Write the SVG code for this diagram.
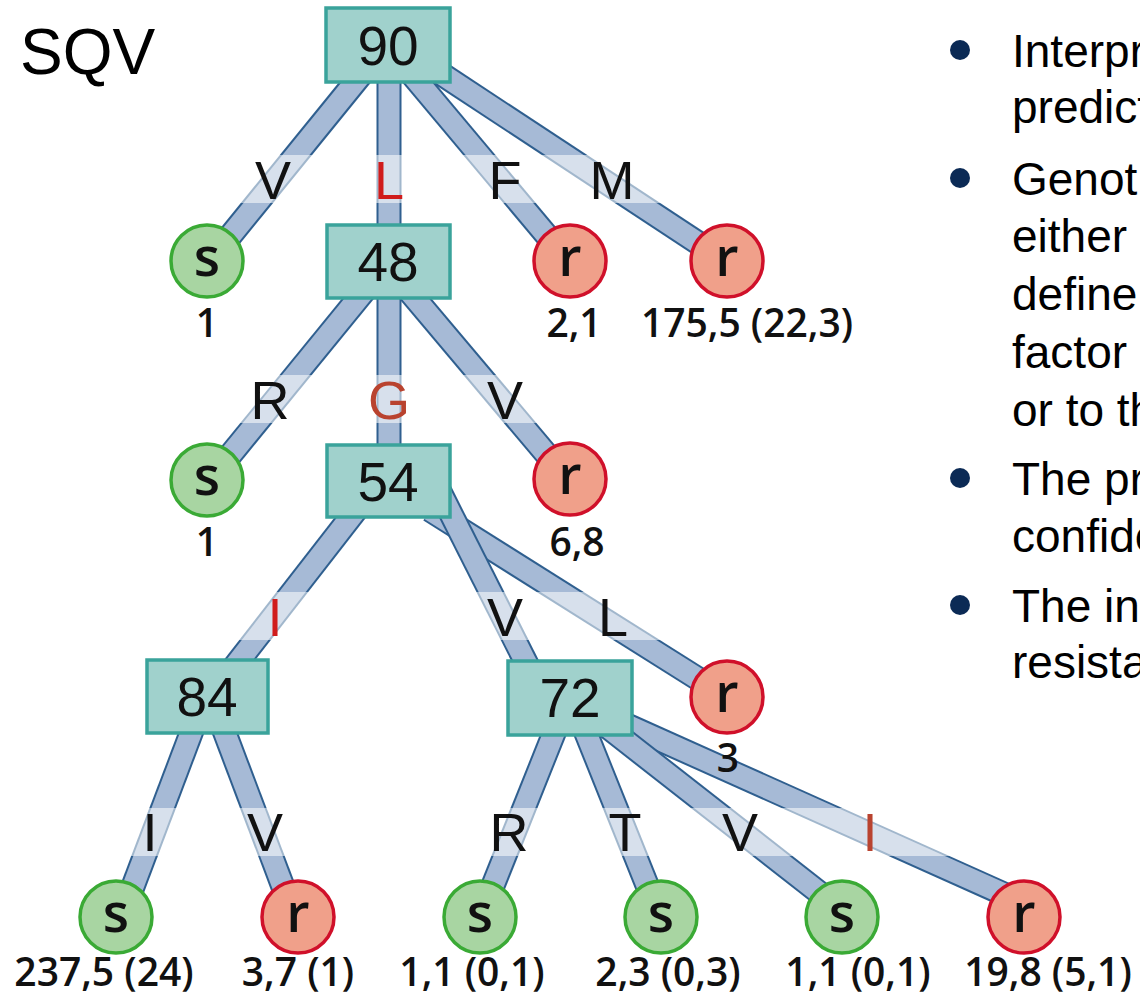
<svg xmlns="http://www.w3.org/2000/svg" width="1140" height="999" viewBox="0 0 1140 999">
  <style>
    .eo { stroke: #2f5f8f; stroke-width: 25; fill: none; }
    .ei { stroke: #a6bad6; stroke-width: 21; fill: none; }
    .zone { fill: #ffffff; fill-opacity: 0.55; }
    .box { fill: #a0d1cc; stroke: #3aa39b; stroke-width: 3.5; }
    .boxt { font-family: "Liberation Sans", Arial, sans-serif; font-size: 55px; fill: #111; text-anchor: middle; }
    .sus { fill: #a8d5a2; stroke: #3aaa35; stroke-width: 3.5; }
    .res { fill: #f0a08a; stroke: #d0102a; stroke-width: 3.5; }
    .lt { font-family: "Open Sans", "DejaVu Sans", sans-serif; font-weight: 600; font-size: 54px; fill: #111; text-anchor: middle; }
    .val { font-family: "Open Sans", "DejaVu Sans", sans-serif; font-weight: 600; font-size: 39px; fill: #111; text-anchor: middle; }
    .el { font-family: "Liberation Sans", Arial, sans-serif; font-size: 54px; fill: #111; text-anchor: middle; }
    .red { fill: #d01c1c; }
    .brn { fill: #b9432f; }
    .side { font-family: "Liberation Sans", Arial, sans-serif; font-size: 46px; fill: #000; }
    .bul { fill: #0b2a55; }
  </style>

  <!-- title -->
  <text x="20" y="74" font-family="Liberation Sans, Arial, sans-serif" font-size="64" fill="#000">SQV</text>

  <!-- connectors: thick bands, outline then fill -->
  <g id="connectors">
    <!-- from 90 -->
    <line class="eo" x1="365" y1="70" x2="209" y2="262"/><line class="ei" x1="365" y1="70" x2="209" y2="262"/>
    <line class="eo" x1="389" y1="70" x2="389" y2="232"/><line class="ei" x1="389" y1="70" x2="389" y2="232"/>
    <line class="eo" x1="408" y1="70" x2="569" y2="262"/><line class="ei" x1="408" y1="70" x2="569" y2="262"/>
    <line class="eo" x1="440" y1="73" x2="727" y2="262"/><line class="ei" x1="440" y1="73" x2="727" y2="262"/>
    <!-- from 48 -->
    <line class="eo" x1="365" y1="290" x2="209" y2="481"/><line class="ei" x1="365" y1="290" x2="209" y2="481"/>
    <line class="eo" x1="389" y1="290" x2="389" y2="452"/><line class="ei" x1="389" y1="290" x2="389" y2="452"/>
    <line class="eo" x1="408" y1="290" x2="569" y2="481"/><line class="ei" x1="408" y1="290" x2="569" y2="481"/>
    <!-- from 54 -->
    <line class="eo" x1="360" y1="505" x2="224" y2="680"/><line class="ei" x1="360" y1="505" x2="224" y2="680"/>
    <line class="eo" x1="430" y1="510" x2="727" y2="697"/><line class="ei" x1="430" y1="510" x2="727" y2="697"/>
    <line class="eo" x1="440" y1="492" x2="560" y2="730"/><line class="ei" x1="440" y1="492" x2="560" y2="730"/>
    <!-- from 84 -->
    <line class="eo" x1="196" y1="720" x2="126" y2="905"/><line class="ei" x1="196" y1="720" x2="126" y2="905"/>
    <line class="eo" x1="220" y1="720" x2="288" y2="900"/><line class="ei" x1="220" y1="720" x2="288" y2="900"/>
    <!-- from 72 -->
    <line class="eo" x1="560" y1="718" x2="486" y2="903"/><line class="ei" x1="560" y1="718" x2="486" y2="903"/>
    <line class="eo" x1="580" y1="718" x2="655" y2="905"/><line class="ei" x1="580" y1="718" x2="655" y2="905"/>
    <line class="eo" x1="620" y1="722" x2="1015" y2="899"/><line class="ei" x1="620" y1="722" x2="1015" y2="899"/>
    <line class="eo" x1="605" y1="725" x2="835" y2="905"/><line class="ei" x1="605" y1="725" x2="835" y2="905"/>
    <!-- pale label rows across the bands -->
    <rect class="zone" x="60" y="155" width="940" height="48"/>
    <rect class="zone" x="60" y="375" width="940" height="48"/>
    <rect class="zone" x="60" y="592" width="940" height="48"/>
    <rect class="zone" x="60" y="808" width="980" height="48"/>
  </g>

  <!-- edge labels -->
  <g id="edge-labels">
    <text class="el" x="273" y="199">V</text>
    <text class="el red" x="389" y="199">L</text>
    <text class="el" x="505" y="199">F</text>
    <text class="el" x="612" y="199">M</text>
    <text class="el" x="270" y="419">R</text>
    <text class="el brn" x="389" y="419">G</text>
    <text class="el" x="505" y="419">V</text>
    <text class="el red" x="275" y="636">I</text>
    <text class="el" x="505" y="636">V</text>
    <text class="el" x="613" y="636">L</text>
    <text class="el" x="150" y="851">I</text>
    <text class="el" x="265" y="851">V</text>
    <text class="el" x="509" y="851">R</text>
    <text class="el" x="625" y="851">T</text>
    <text class="el" x="740" y="851">V</text>
    <text class="el brn" x="870" y="851">I</text>
  </g>

  <!-- split nodes -->
  <g id="n90"><rect class="box" x="326" y="8" width="124" height="74"/><text class="boxt" x="388" y="65">90</text></g>
  <g id="n48"><rect class="box" x="327" y="225" width="123" height="73"/><text class="boxt" x="388" y="281">48</text></g>
  <g id="n54"><rect class="box" x="327" y="445" width="123" height="72"/><text class="boxt" x="388" y="501">54</text></g>
  <g id="n84"><rect class="box" x="147" y="660" width="121" height="73"/><text class="boxt" x="207" y="716">84</text></g>
  <g id="n72"><rect class="box" x="508" y="661" width="124" height="74"/><text class="boxt" x="570" y="717">72</text></g>

  <!-- leaves -->
  <g id="leaf-v"><circle class="sus" cx="207" cy="261" r="36"/><text class="lt" x="207" y="276">s</text><text class="val" x="207" y="337">1</text></g>
  <g id="leaf-f"><circle class="res" cx="570" cy="261" r="36"/><text class="lt" x="570" y="276">r</text><text class="val" x="574" y="337">2,1</text></g>
  <g id="leaf-m"><circle class="res" cx="727" cy="261" r="36"/><text class="lt" x="727" y="276">r</text><text class="val" x="747" y="337">175,5 (22,3)</text></g>
  <g id="leaf-r"><circle class="sus" cx="207" cy="480" r="36"/><text class="lt" x="207" y="495">s</text><text class="val" x="207" y="556">1</text></g>
  <g id="leaf-v2"><circle class="res" cx="570" cy="479" r="36"/><text class="lt" x="570" y="494">r</text><text class="val" x="577" y="556">6,8</text></g>
  <g id="leaf-l"><circle class="res" cx="727" cy="697" r="36"/><text class="lt" x="727" y="712">r</text><text class="val" x="728" y="772">3</text></g>
  <g id="leaf-84i"><circle class="sus" cx="116" cy="917" r="36"/><text class="lt" x="116" y="932">s</text><text class="val" x="104" y="986">237,5 (24)</text></g>
  <g id="leaf-84v"><circle class="res" cx="298" cy="917" r="36"/><text class="lt" x="298" y="932">r</text><text class="val" x="298" y="986">3,7 (1)</text></g>
  <g id="leaf-72r"><circle class="sus" cx="480" cy="917" r="36"/><text class="lt" x="480" y="932">s</text><text class="val" x="472" y="986">1,1 (0,1)</text></g>
  <g id="leaf-72t"><circle class="sus" cx="661" cy="917" r="36"/><text class="lt" x="661" y="932">s</text><text class="val" x="668" y="986">2,3 (0,3)</text></g>
  <g id="leaf-72v"><circle class="sus" cx="842" cy="917" r="36"/><text class="lt" x="842" y="932">s</text><text class="val" x="858" y="986">1,1 (0,1)</text></g>
  <g id="leaf-72i"><circle class="res" cx="1024" cy="917" r="36"/><text class="lt" x="1024" y="932">r</text><text class="val" x="1048" y="986">19,8 (5,1)</text></g>

  <!-- bullet list at right -->
  <g id="notes">
    <circle class="bul" cx="960" cy="50" r="10"/>
    <circle class="bul" cx="960" cy="178" r="10"/>
    <circle class="bul" cx="960" cy="478" r="10"/>
    <circle class="bul" cx="960" cy="605" r="10"/>
    <text class="side" x="1012" y="67">Interpr</text>
    <text class="side" x="1012" y="123">predict</text>
    <text class="side" x="1012" y="195">Genot</text>
    <text class="side" x="1012" y="252">either</text>
    <text class="side" x="1012" y="310">define</text>
    <text class="side" x="1012" y="368">factor</text>
    <text class="side" x="1012" y="426">or to th</text>
    <text class="side" x="1012" y="495">The pr</text>
    <text class="side" x="1012" y="552">confide</text>
    <text class="side" x="1012" y="622">The in</text>
    <text class="side" x="1012" y="678">resista</text>
  </g>
</svg>
